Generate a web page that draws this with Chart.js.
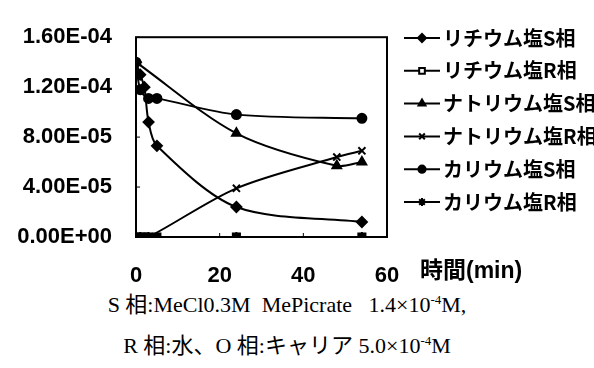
<!DOCTYPE html>
<html lang="ja">
  <head>
    <meta charset="utf-8">
    <title>塩の移動</title>
    <style>
      body { margin: 0; background: #fff; }
      #wrap { position: relative; width: 594px; height: 368px; }
      .note { position: absolute; left: 0; width: 574px; text-align: center; line-height: 24px;
              font-family: "Liberation Serif", "Noto Sans CJK JP", serif; font-size: 22px; color: #000; white-space: pre; }
      .note sup { font-size: 13px; line-height: 0; }
    </style>
  </head>
  <body>
    <div id="wrap">
      <canvas id="myChart" width="594" height="290"></canvas>
      <div class="note" style="top:293px">S 相:MeCl0.3M  MePicrate   1.4×10<sup>-4</sup>M,</div>
      <div class="note" style="top:334px">R 相:水、O 相:キャリア 5.0×10<sup>-4</sup>M</div>
    </div>

    <script src="https://cdn.jsdelivr.net/npm/chart.js@4.4.1/dist/chart.umd.min.js"></script>
    <script>
    // 時間(min) と濃度 (M)
    const yLabels = ['0.00E+00', '4.00E-05', '8.00E-05', '1.20E-04', '1.60E-04']
    const xTitle = '時間(min)'

    const liS_t = [0, 1, 2, 3, 5, 24, 54]
    const liS = [1.40e-4, 1.30e-4, 1.20e-4, 0.92e-4, 0.73e-4, 0.24e-4, 0.12e-4]

    const liR_t = [0, 1, 2, 3, 5, 24, 54]
    const liR = [0, 0, 0, 0, 0, 0, 0]

    const naS_t = [0, 24, 48, 54]
    const naS = [1.40e-4, 0.83e-4, 0.57e-4, 0.60e-4]

    const naR_t = [0, 1, 3, 24, 48, 54]
    const naR = [0, 0, 0, 0.39e-4, 0.64e-4, 0.69e-4]

    const kS_t = [0, 1, 3, 5, 24, 54]
    const kS = [1.40e-4, 1.18e-4, 1.11e-4, 1.11e-4, 0.98e-4, 0.95e-4]

    const kR_t = [0, 1, 3, 5, 24, 54]
    const kR = [0, 0, 0, 0, 0, 0]

    const names = ['リチウム塩S相', 'リチウム塩R相', 'ナトリウム塩S相', 'ナトリウム塩R相', 'カリウム塩S相', 'カリウム塩R相']

    function pts(t, v) {
      return t.map((x, i) => ({ x: x, y: v[i] }))
    }

    function series(label, t, v, style, radius, legendFill) {
      return {
        label: label,
        data: pts(t, v),
        borderColor: '#000',
        borderWidth: 2,
        backgroundColor: legendFill || '#000',
        pointStyle: style,
        pointRadius: radius,
        pointBorderWidth: 2,
        pointBorderColor: '#000',
        pointBackgroundColor: '#000',
        tension: 0.3
      }
    }

    const datasets = [
      series(names[0], liS_t, liS, 'rectRot', 5),
      series(names[1], liR_t, liR, 'rect', 5, '#fff'),
      series(names[2], naS_t, naS, 'triangle', 5),
      series(names[3], naR_t, naR, 'crossRot', 5),
      series(names[4], kS_t, kS, 'circle', 4.5),
      series(names[5], kR_t, kR, 'star', 5)
    ]
    // squares on top at the bottom line
    datasets[1].order = -1

    const frame = {
      id: 'frame',
      afterDraw(chart) {
        const ctx = chart.ctx
        const a = chart.chartArea
        ctx.save()
        ctx.strokeStyle = '#000'
        ctx.lineWidth = 2
        ctx.strokeRect(a.left, a.top, a.right - a.left, a.bottom - a.top)

        // inner tick marks
        ctx.lineWidth = 1
        chart.scales.y.ticks.forEach(t => {
          const y = chart.scales.y.getPixelForValue(t.value)
          ctx.beginPath(); ctx.moveTo(a.left, y); ctx.lineTo(a.left + 4, y); ctx.stroke()
        })
        chart.scales.x.ticks.forEach(t => {
          const x = chart.scales.x.getPixelForValue(t.value)
          ctx.beginPath(); ctx.moveTo(x, a.bottom); ctx.lineTo(x, a.bottom - 4); ctx.stroke()
        })

        // axis title beside the last tick
        ctx.fillStyle = '#000'
        ctx.font = 'bold 23px "Liberation Sans", "Noto Sans CJK JP"'
        ctx.textAlign = 'left'
        ctx.textBaseline = 'middle'
        ctx.fillText(xTitle, 420, 272)

        // legend
        ctx.font = 'bold 20px "Noto Sans CJK JP"'
        chart.data.datasets.forEach((ds, i) => {
          const y = 38 + i * 32.8
          ctx.strokeStyle = '#000'
          ctx.lineWidth = 2
          ctx.beginPath(); ctx.moveTo(404, y); ctx.lineTo(440, y); ctx.stroke()
          ctx.fillStyle = ds.backgroundColor
          Chart.helpers.drawPoint(ctx, {
            pointStyle: ds.pointStyle,
            radius: ds.pointRadius * 0.8,
            borderWidth: 2,
            rotation: 0
          }, 422, y)
          ctx.fillStyle = '#000'
          ctx.fillText(ds.label, 443, y)
        })
        ctx.restore()
      }
    }

    const ctx = document.getElementById('myChart').getContext('2d')
    window.myChart = new Chart(ctx, {
      type: 'line',
      data: { datasets: datasets },
      plugins: [frame],
      options: {
        responsive: false,
        animation: false,
        layout: { padding: { left: 0, right: 207, top: 20, bottom: 0 } },
        plugins: { legend: { display: false }, tooltip: { enabled: false } },
        scales: {
          x: {
            type: 'linear',
            min: 0,
            max: 60,
            grid: { display: false, drawTicks: false },
            border: { display: false },
            ticks: {
              stepSize: 20,
              padding: 26,
              color: '#000',
              font: { family: 'Liberation Sans', size: 22, weight: 'bold' }
            },
            afterFit: s => { s.height = 53 }
          },
          y: {
            min: 0,
            max: 1.6e-4,
            grid: { display: false, drawTicks: false },
            border: { display: false },
            ticks: {
              stepSize: 4e-5,
              padding: 24,
              color: '#000',
              font: { family: 'Liberation Sans', size: 22, weight: 'bold' },
              callback: (v, i) => yLabels[i]
            },
            afterFit: s => { s.width = 136 }
          }
        }
      }
    })
    </script>
  </body>
</html>
